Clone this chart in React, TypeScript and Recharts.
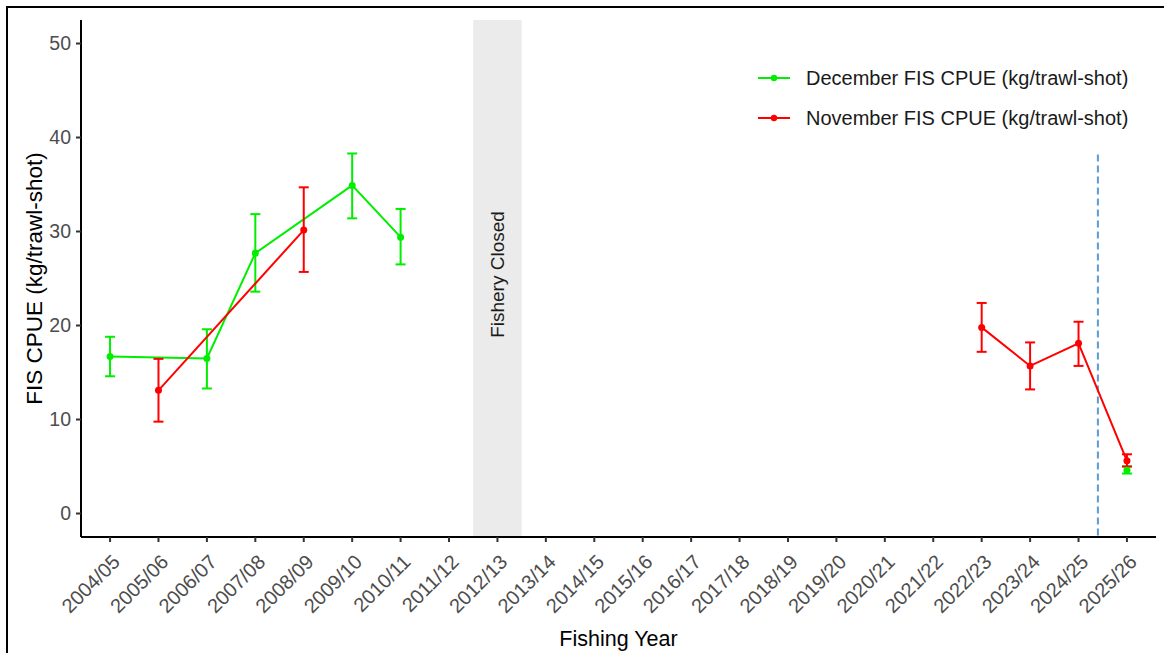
import React from "react";
import {
  LineChart,
  Line,
  XAxis,
  YAxis,
  ErrorBar,
  ReferenceArea,
  ReferenceLine,
} from "recharts";

const years = [
  "2004/05", "2005/06", "2006/07", "2007/08", "2008/09", "2009/10", "2010/11", "2011/12",
  "2012/13", "2013/14", "2014/15", "2015/16", "2016/17", "2017/18", "2018/19", "2019/20",
  "2020/21", "2021/22", "2022/23", "2023/24", "2024/25", "2025/26",
];

// December FIS CPUE (kg/trawl-shot)
const december = [16.7, null, 16.5, 27.7, null, 34.9, 29.4, null, null, null, null, null, null, null, null, null, null, null, null, null, null, 4.6];
const decemberLow = [14.6, null, 13.3, 23.6, null, 31.4, 26.5, null, null, null, null, null, null, null, null, null, null, null, null, null, null, 4.25];
const decemberHigh = [18.8, null, 19.6, 31.85, null, 38.3, 32.4, null, null, null, null, null, null, null, null, null, null, null, null, null, null, 5.0];

// November FIS CPUE (kg/trawl-shot)
const november = [null, 13.1, null, null, 30.15, null, null, null, null, null, null, null, null, null, null, null, null, null, 19.8, 15.7, 18.1, 5.6];
const novemberLow = [null, 9.77, null, null, 25.7, null, null, null, null, null, null, null, null, null, null, null, null, null, 17.2, 13.2, 15.7, 5.0];
const novemberHigh = [null, 16.45, null, null, 34.7, null, null, null, null, null, null, null, null, null, null, null, null, null, 22.4, 18.2, 20.4, 6.3];

const closedYear = "2012/13";
const changeMarker = 20.4; // between 2024/25 and 2025/26
const changeMarkerTop = 38.2;

const yTicks = [0, 10, 20, 30, 40, 50];

const GREEN = "#00ee00";
const RED = "#ff0000";
const BLUE = "#5b9bd5";
const FONT = "'Liberation Sans', Arial, sans-serif";

type Pt = { x: number; y: number; err: [number, number] };

const closedIdx = years.indexOf(closedYear);

function segment(vals: (number | null)[], lo: (number | null)[], hi: (number | null)[], before: boolean): Pt[] {
  const out: Pt[] = [];
  vals.forEach((v, i) => {
    if (v == null) return;
    if (before ? i >= closedIdx : i <= closedIdx) return;
    out.push({ x: i, y: v, err: [v - (lo[i] as number), (hi[i] as number) - v] });
  });
  return out;
}

const decPre = segment(december, decemberLow, decemberHigh, true);
const decPost = segment(december, decemberLow, decemberHigh, false);
const novPre = segment(november, novemberLow, novemberHigh, true);
const novPost = segment(november, novemberLow, novemberHigh, false);

const legendItems = [
  { c: GREEN, t: "December FIS CPUE (kg/trawl-shot)" },
  { c: RED, t: "November FIS CPUE (kg/trawl-shot)" },
];

const XTick = ({ x, y, payload }: any) => (
  <g transform={`translate(${x + 1},${y + 9})`}>
    <text
      textAnchor="end"
      transform="rotate(-45)"
      dy="0.72em"
      fill="#4d4d4d"
      fontSize={20}
      fontFamily={FONT}
    >
      {years[payload.value]}
    </text>
  </g>
);

const LegendBox = () => (
  <div style={{ position: "absolute", left: 758, top: 58, fontFamily: FONT, fontSize: 20, color: "#1a1a1a" }}>
    {legendItems.map((it) => (
      <div key={it.t} style={{ display: "flex", alignItems: "center", height: 40 }}>
        <svg width={32} height={10} style={{ marginRight: 16 }}>
          <line x1={0} x2={32} y1={5} y2={5} stroke={it.c} strokeWidth={2} />
          <circle cx={16} cy={5} r={3.2} fill={it.c} />
        </svg>
        <span>{it.t}</span>
      </div>
    ))}
  </div>
);

const ClosedLabel = ({ viewBox }: any) => {
  const cx = viewBox.x + viewBox.width / 2;
  const cy = viewBox.y + viewBox.height / 2 - 4;
  return (
    <text
      x={cx}
      y={cy}
      transform={`rotate(-90, ${cx}, ${cy})`}
      textAnchor="middle"
      dominantBaseline="central"
      fontSize={19}
      fontFamily={FONT}
      fill="#1a1a1a"
    >
      Fishery Closed
    </text>
  );
};

const YTitle = ({ viewBox }: any) => {
  const cx = viewBox.x + 34;
  const cy = viewBox.y + viewBox.height / 2;
  return (
    <text
      x={cx}
      y={cy}
      transform={`rotate(-90, ${cx}, ${cy})`}
      textAnchor="middle"
      dominantBaseline="central"
      fontSize={22.5}
      fontFamily={FONT}
      fill="#000"
    >
      FIS CPUE (kg/trawl-shot)
    </text>
  );
};

const XTitle = ({ viewBox }: any) => {
  const cx = viewBox.x + viewBox.width / 2;
  const cy = viewBox.y + viewBox.height - 14;
  return (
    <text x={cx} y={cy} textAnchor="middle" dominantBaseline="central" fontSize={21.5} fontFamily={FONT} fill="#000">
      Fishing Year
    </text>
  );
};

function Series({ data, color, name }: { data: Pt[]; color: string; name: string }) {
  return (
    <Line
      key={name}
      data={data}
      dataKey="y"
      name={name}
      stroke={color}
      strokeWidth={2}
      dot={{ r: 3.5, fill: color, stroke: color, strokeWidth: 0 }}
      activeDot={false}
      isAnimationActive={false}
    >
      <ErrorBar dataKey="err" width={5} strokeWidth={2} stroke={color} direction="y" />
    </Line>
  );
}

export default function App() {
  return (
    <div style={{ position: "absolute", left: 0, top: 0, width: 1164, height: 653, background: "#fff", overflow: "hidden" }}>
      <div
        style={{
          position: "absolute",
          left: 6,
          top: 6,
          width: 1300,
          height: 800,
          borderLeft: "2px solid #000",
          borderTop: "2px solid #000",
        }}
      />
      <LineChart width={1164} height={653} margin={{ top: 20, right: 8, left: 0, bottom: 0 }}>
        <ReferenceArea x1={closedIdx - 0.5} x2={closedIdx + 0.5} y1={-2.5} y2={52.5} fill="#ebebeb" fillOpacity={1} stroke="none" label={<ClosedLabel />} />
        <XAxis
          type="number"
          dataKey="x"
          domain={[-0.6, years.length - 1 + 0.6]}
          ticks={years.map((_, i) => i)}
          interval={0}
          allowDataOverflow
          height={116}
          tick={<XTick />}
          tickSize={5}
          axisLine={{ stroke: "#000", strokeWidth: 2 }}
          tickLine={{ stroke: "#333", strokeWidth: 2 }}
          label={<XTitle />}
        />
        <YAxis
          type="number"
          domain={[-2.5, 52.5]}
          ticks={yTicks}
          allowDataOverflow
          width={81}
          tickSize={5}
          tickMargin={5}
          tick={{ fill: "#4d4d4d", fontSize: 19.5, fontFamily: FONT }}
          axisLine={{ stroke: "#000", strokeWidth: 2 }}
          tickLine={{ stroke: "#333", strokeWidth: 2 }}
          label={<YTitle />}
        />
        <ReferenceLine
          segment={[
            { x: changeMarker, y: changeMarkerTop },
            { x: changeMarker, y: -2.5 },
          ]}
          stroke={BLUE}
          strokeWidth={2}
          strokeDasharray="7 4"
        />
        {Series({ data: decPre, color: GREEN, name: "decPre" })}
        {Series({ data: decPost, color: GREEN, name: "decPost" })}
        {Series({ data: novPre, color: RED, name: "novPre" })}
        {Series({ data: novPost, color: RED, name: "novPost" })}
      </LineChart>
      <LegendBox />
    </div>
  );
}
